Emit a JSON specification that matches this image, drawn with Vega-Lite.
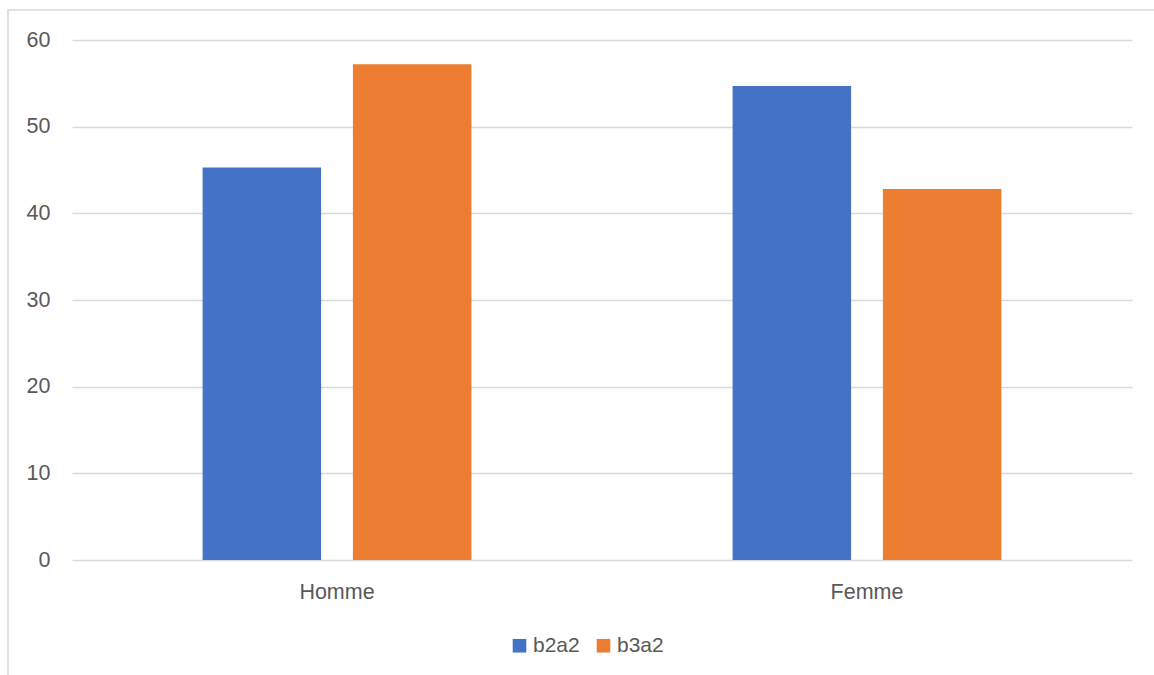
{
  "$schema": "https://vega.github.io/schema/vega-lite/v6.json",
  "autosize": "none",
  "padding": {"left": 8, "top": 10, "right": -6, "bottom": -6},
  "width": 1152,
  "height": 671,
  "background": "white",
  "config": {
    "font": "Liberation Sans",
    "view": {"stroke": "#d9d9d9", "strokeWidth": 1.5}
  },
  "data": {
    "values": [
      {"sexe": "Homme", "serie": "b2a2", "valeur": 45.3},
      {"sexe": "Homme", "serie": "b3a2", "valeur": 57.2},
      {"sexe": "Femme", "serie": "b2a2", "valeur": 54.7},
      {"sexe": "Femme", "serie": "b3a2", "valeur": 42.8}
    ]
  },
  "mark": {"type": "bar"},
  "encoding": {
    "x": {
      "field": "sexe",
      "type": "nominal",
      "sort": ["Homme", "Femme"],
      "scale": {"range": [64, 1124], "paddingInner": 0, "paddingOuter": 0},
      "axis": {
        "title": null,
        "orient": "bottom",
        "offset": -121,
        "domain": false,
        "ticks": false,
        "grid": false,
        "labelAngle": 0,
        "labelPadding": 21,
        "labelFontSize": 21.5,
        "labelColor": "#595959"
      }
    },
    "xOffset": {
      "field": "serie",
      "type": "nominal",
      "sort": ["b2a2", "b3a2"],
      "scale": {"paddingInner": 0.2116, "paddingOuter": 0.869}
    },
    "y": {
      "field": "valeur",
      "type": "quantitative",
      "scale": {"domain": [0, 60], "range": [550, 30], "nice": false, "zero": true},
      "axis": {
        "title": null,
        "values": [0, 10, 20, 30, 40, 50, 60],
        "offset": -64,
        "domain": false,
        "ticks": false,
        "tickSize": 0,
        "labelPadding": 22,
        "labelFontSize": 21.5,
        "labelColor": "#595959",
        "grid": true,
        "gridColor": "#d9d9d9",
        "gridWidth": 1.5
      }
    },
    "y2": {"datum": 0},
    "color": {
      "field": "serie",
      "type": "nominal",
      "scale": {"domain": ["b2a2", "b3a2"], "range": ["#4472C4", "#ED7D31"]},
      "legend": {
        "title": null,
        "orient": "none",
        "legendX": 501,
        "legendY": 625,
        "direction": "horizontal",
        "symbolType": "square",
        "symbolSize": 185,
        "symbolStrokeWidth": 0,
        "labelFontSize": 21,
        "labelColor": "#595959",
        "labelOffset": 3,
        "columnPadding": 13,
        "padding": 0
      }
    }
  }
}
